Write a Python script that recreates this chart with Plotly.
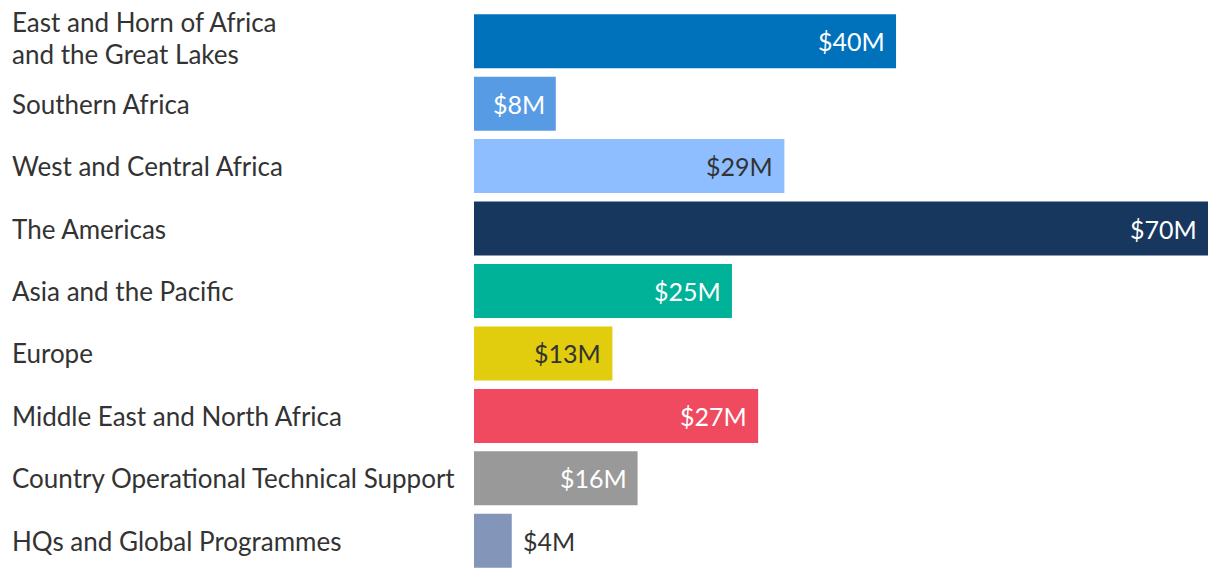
import plotly.graph_objects as go

categories = [
    "East and Horn of Africa<br>and the Great Lakes",
    "Southern Africa",
    "West and Central Africa",
    "The Americas",
    "Asia and the Pacific",
    "Europe",
    "Middle East and North Africa",
    "Country Operational Technical Support",
    "HQs and Global Programmes",
]
values = [40.25, 7.8, 29.6, 70.0, 24.6, 13.2, 27.1, 15.6, 3.6]
value_labels = ["$40M", "$8M", "$29M", "$70M", "$25M", "$13M", "$27M", "$16M", "$4M"]
colors = ["#0072BC", "#589BE5", "#8EBEFF", "#18375F", "#00B398",
          "#E1CC0D", "#EF4A60", "#999999", "#8395B9"]

W, H = 1220, 580
ML, MR, MT, MB = 474, 12, 10, 8
TEXT_DARK = "#333333"
FONT = "Lato"
LABEL_SIZE = 26
LINE_GAP = 32
MULTI_LIFT = 3


def lum(hexc):
    h = hexc.lstrip("#")
    r, g, b = [int(h[i:i + 2], 16) / 255 for i in (0, 2, 4)]
    f = lambda c: c / 12.92 if c <= 0.03928 else ((c + 0.055) / 1.055) ** 2.4
    return 0.2126 * f(r) + 0.7152 * f(g) + 0.0722 * f(b)


fig = go.Figure()
fig.add_trace(go.Bar(
    x=values, y=list(range(len(categories))), orientation="h",
    marker=dict(color=colors, line=dict(width=0)),
    hoverinfo="skip",
))

annotations = []
for i, (cat, v, lab, c) in enumerate(zip(categories, values, value_labels, colors)):
    lines = cat.split("<br>")
    n = len(lines)
    for k, line in enumerate(lines):
        annotations.append(dict(
            x=0, xref="paper", y=i, yref="y", text=line, showarrow=False,
            xanchor="left", yanchor="middle", align="left", xshift=-(ML - 10),
            yshift=((n - 1) / 2 - k) * LINE_GAP + (MULTI_LIFT if n > 1 else 0),
            font=dict(family=FONT, size=LABEL_SIZE, color=TEXT_DARK),
        ))
    outside = v < 5
    if outside:
        annotations.append(dict(
            x=v, xref="x", y=i, yref="y", text=lab, showarrow=False,
            xanchor="left", yanchor="middle", xshift=9,
            font=dict(family=FONT, size=25, color=TEXT_DARK),
        ))
    else:
        annotations.append(dict(
            x=v, xref="x", y=i, yref="y", text=lab, showarrow=False,
            xanchor="right", yanchor="middle", xshift=-9,
            font=dict(family=FONT, size=25,
                      color="#FFFFFF" if lum(c) < 0.4 else TEXT_DARK),
        ))

fig.update_layout(
    width=W, height=H,
    margin=dict(l=ML, r=MR, t=MT, b=MB),
    paper_bgcolor="white", plot_bgcolor="white",
    bargap=0.135,
    showlegend=False,
    hovermode=False,
    annotations=annotations,
    xaxis=dict(range=[0, 70], visible=False, fixedrange=True),
    yaxis=dict(range=[len(categories) - 0.5, -0.5], visible=False, fixedrange=True),
    font=dict(family=FONT),
)

fig.write_html(
    "out.html",
    config={"displayModeBar": False},
    post_script="document.body.style.margin='0';document.body.style.overflow='hidden';",
)
